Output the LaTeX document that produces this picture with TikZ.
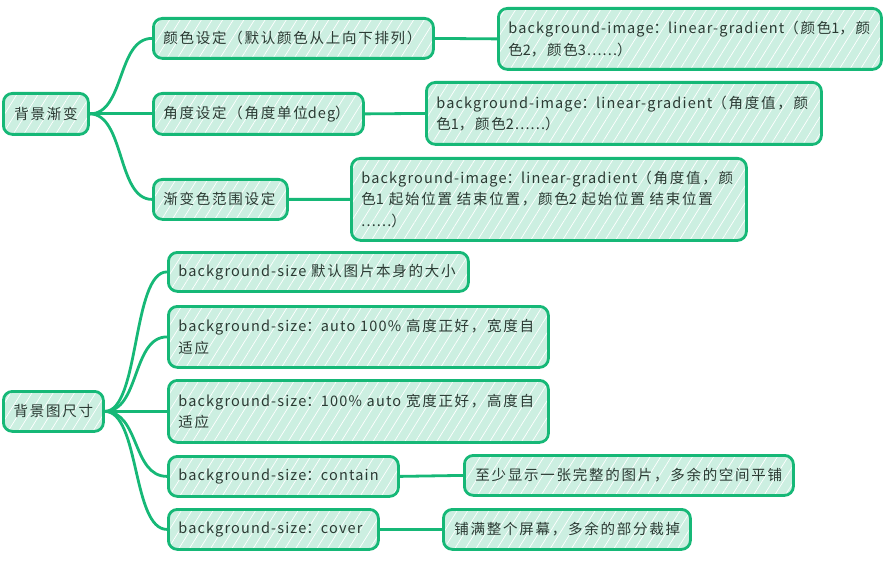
\documentclass[tikz,border=0pt]{standalone}
\usepackage{fontspec}
\setmainfont[LetterSpace=8]{Noto Sans CJK SC}
\newfontfamily\cjkfam[LetterSpace=12]{Noto Sans CJK SC}
\newcommand\zh[1]{{\cjkfam #1}}
\usetikzlibrary{patterns.meta}
\definecolor{edgegreen}{HTML}{16B877}
\definecolor{mint}{HTML}{CCEFE1}
\definecolor{ink}{HTML}{2B3A33}
\tikzset{
  box/.style={draw=edgegreen, line width=2.8bp, rounded corners=9bp,
    preaction={fill=mint},
    preaction={pattern={Lines[angle=58,distance=9bp,line width=0.7bp]}, pattern color=white},
    text=ink, font=\fontsize{14.5bp}{21.5bp}\selectfont,
    inner xsep=10bp, inner ysep=0bp, anchor=north west, align=left},
  rootbox/.style={box, align=center},
  link/.style={draw=edgegreen, line width=2.8bp},
}
\begin{document}
\begin{tikzpicture}[x=1bp,y=-1bp]
\useasboundingbox (0,0) rectangle (895,563);
% upper tree
\node[rootbox, minimum width=85bp, minimum height=41bp, text width=65bp] (A1) at (2,92) {\mbox{\zh{背景渐变}}};
\node[box, minimum width=280bp, minimum height=40bp, text width=260bp] (B1) at (152,17) {\mbox{\zh{颜色设定（默认颜色从上向下排列）}}};
\node[box, minimum width=210bp, minimum height=41bp, text width=190bp] (B2) at (152,92) {\mbox{\zh{角度设定（角度单位}deg\zh{）}}};
\node[box, minimum width=134bp, minimum height=40bp, text width=114bp] (B3) at (152,178) {\mbox{\zh{渐变色范围设定}}};
\node[box, minimum width=383bp, minimum height=61bp, text width=363bp] (C1) at (497,7)
  {\mbox{background-image\zh{：}linear-gradient\zh{（颜色}1\zh{，颜}}\\\mbox{\zh{色}2\zh{，颜色}3......\zh{）}}};
\node[box, minimum width=395bp, minimum height=62bp, text width=375bp] (C2) at (425,81)
  {\mbox{background-image\zh{：}linear-gradient\zh{（角度值，颜}}\\\mbox{\zh{色}1\zh{，颜色}2......\zh{）}}};
\node[box, minimum width=395bp, minimum height=82bp, text width=375bp] (C3) at (350,157)
  {\mbox{background-image\zh{：}linear-gradient\zh{（角度值，颜}}\\\mbox{\zh{色}1 \zh{起始位置 结束位置，颜色}2 \zh{起始位置 结束位置}}\\\mbox{......\zh{）}}};
% lower tree
\node[rootbox, minimum width=100bp, minimum height=40bp, text width=80bp] (A2) at (2,390) {\mbox{\zh{背景图尺寸}}};
\node[box, minimum width=300bp, minimum height=39bp, text width=280bp] (D1) at (167,251) {\mbox{background-size \zh{默认图片本身的大小}}};
\node[box, minimum width=380bp, minimum height=61bp, text width=360bp] (D2) at (167,305)
  {\mbox{background-size\zh{：}auto 100\% \zh{高度正好，宽度自}}\\\mbox{\zh{适应}}};
\node[box, minimum width=380bp, minimum height=62bp, text width=360bp] (D3) at (167,379)
  {\mbox{background-size\zh{：}100\% auto \zh{宽度正好，高度自}}\\\mbox{\zh{适应}}};
\node[box, minimum width=230bp, minimum height=40bp, text width=210bp] (D4) at (167,455) {\mbox{background-size\zh{：}contain}};
\node[box, minimum width=210bp, minimum height=40bp, text width=190bp] (D5) at (167,508) {\mbox{background-size\zh{：}cover}};
\node[box, inner xsep=11bp, minimum width=329bp, minimum height=40bp, text width=307bp] (E4) at (463,454) {\mbox{\zh{至少显示一张完整的图片，多余的空间平铺}}};
\node[box, inner xsep=11bp, minimum width=247bp, minimum height=40bp, text width=225bp] (E5) at (442,508) {\mbox{\zh{铺满整个屏幕，多余的部分裁掉}}};
% connectors
\draw[link] (A1.east) .. controls +(35,0) and +(-35,0) .. (B1.west);
\draw[link] (A1.east) -- (B2.west);
\draw[link] (A1.east) .. controls +(35,0) and +(-35,0) .. (B3.west);
\draw[link] (B1.east) -- (C1.west);
\draw[link] (B2.east) -- (C2.west);
\draw[link] (B3.east) -- (C3.west);
\draw[link] (A2.east) .. controls +(35,0) and +(-35,0) .. (D1.west);
\draw[link] (A2.east) .. controls +(35,0) and +(-35,0) .. (D2.west);
\draw[link] (A2.east) -- (D3.west);
\draw[link] (A2.east) .. controls +(35,0) and +(-35,0) .. (D4.west);
\draw[link] (A2.east) .. controls +(35,0) and +(-35,0) .. (D5.west);
\draw[link] (D4.east) -- (E4.west);
\draw[link] (D5.east) -- (E5.west);
\end{tikzpicture}
\end{document}
